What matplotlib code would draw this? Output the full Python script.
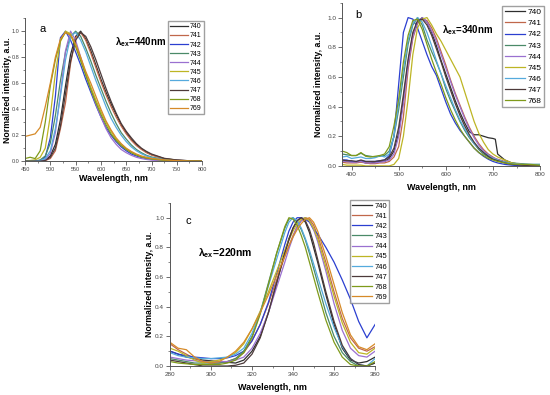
import matplotlib
matplotlib.use("Agg")
import matplotlib.pyplot as plt
from matplotlib.ticker import MultipleLocator

plt.rcParams['font.family'] = ['Liberation Sans', 'DejaVu Sans']
plt.rcParams['mathtext.fontset'] = 'custom'
plt.rcParams['mathtext.rm'] = 'Liberation Sans'
plt.rcParams['mathtext.bf'] = 'Liberation Sans:bold'

samples = ['740', '741', '742', '743', '744', '745', '746', '747', '768', '769']
colors = ['#2e2e2e', '#c0674a', '#2b3fd0', '#4a8a68', '#9a70d0',
          '#bdb524', '#55aadd', '#4d3a3a', '#7f9a1a', '#d68a28']

# ---- panel a : excitation 440 nm ----
wl_a = [450, 460, 470, 480, 490, 500, 510, 520, 530, 540, 550, 560, 570, 580, 590,
        600, 610, 620, 630, 640, 650, 660, 670, 680, 690, 700, 725, 750, 775, 800]
a740 = [0, 0, 0, 0, 0.01, 0.04, 0.13, 0.32, 0.58, 0.82, 0.96, 1.0, 0.94, 0.85, 0.74,
        0.63, 0.53, 0.44, 0.36, 0.28, 0.22, 0.17, 0.13, 0.095, 0.07, 0.05, 0.02, 0.008, 0.003, 0]
a741 = [0, 0, 0, 0, 0.005, 0.02, 0.08, 0.25, 0.45, 0.75, 0.95, 0.99, 0.93, 0.83, 0.72,
        0.61, 0.51, 0.42, 0.34, 0.27, 0.21, 0.16, 0.12, 0.09, 0.065, 0.047, 0.018, 0.007, 0.002, 0]
a742 = [0, 0, 0, 0.005, 0.03, 0.18, 0.5, 0.95, 1.0, 0.93, 0.84, 0.74, 0.63, 0.53, 0.43,
        0.34, 0.26, 0.2, 0.15, 0.11, 0.08, 0.055, 0.04, 0.028, 0.02, 0.014, 0.005, 0.002, 0, 0]
a743 = [0, 0, 0, 0.01, 0.04, 0.14, 0.35, 0.62, 0.84, 0.96, 1.0, 0.96, 0.87, 0.77, 0.66,
        0.56, 0.46, 0.37, 0.29, 0.22, 0.17, 0.125, 0.09, 0.065, 0.045, 0.032, 0.013, 0.005, 0.002, 0]
a744 = [0, 0, 0, 0, 0.01, 0.06, 0.22, 0.52, 0.85, 1.0, 0.93, 0.8, 0.67, 0.55, 0.44,
        0.34, 0.25, 0.18, 0.13, 0.09, 0.065, 0.045, 0.03, 0.02, 0.013, 0.008, 0.003, 0, 0, 0]
a745 = [0, 0.005, 0.01, 0.03, 0.1, 0.35, 0.68, 0.92, 1.0, 0.98, 0.9, 0.79, 0.68, 0.57, 0.47,
        0.38, 0.3, 0.23, 0.17, 0.13, 0.095, 0.07, 0.05, 0.035, 0.025, 0.018, 0.008, 0.003, 0.001, 0]
a746 = [0, 0, 0, 0.005, 0.02, 0.08, 0.25, 0.5, 0.78, 0.96, 0.99, 0.93, 0.84, 0.73, 0.62,
        0.52, 0.42, 0.33, 0.26, 0.2, 0.15, 0.11, 0.08, 0.057, 0.04, 0.028, 0.011, 0.004, 0.001, 0]
a747 = [0, 0, 0, 0, 0.005, 0.03, 0.1, 0.27, 0.52, 0.77, 0.93, 0.99, 0.96, 0.88, 0.78,
        0.67, 0.56, 0.46, 0.37, 0.29, 0.23, 0.18, 0.135, 0.1, 0.075, 0.055, 0.022, 0.009, 0.003, 0]
a768 = [0.02, 0.03, 0.02, 0.08, 0.3, 0.58, 0.78, 0.93, 0.99, 0.97, 0.88, 0.77, 0.66, 0.55, 0.45,
        0.36, 0.28, 0.21, 0.16, 0.12, 0.09, 0.065, 0.047, 0.033, 0.024, 0.017, 0.007, 0.003, 0.001, 0]
a769 = [0.19, 0.2, 0.21, 0.26, 0.42, 0.6, 0.8, 0.94, 0.99, 0.97, 0.9, 0.8, 0.69, 0.6, 0.5,
        0.4, 0.31, 0.24, 0.18, 0.135, 0.1, 0.075, 0.055, 0.04, 0.03, 0.022, 0.01, 0.004, 0.001, 0]

# ---- panel b : excitation 340 nm (no 769) ----
wl_b = [380, 390, 400, 410, 420, 430, 440, 450, 460, 470, 480, 490, 500, 510, 520, 530, 540,
        550, 560, 570, 580, 590, 600, 610, 620, 630, 640, 650, 660, 670, 680, 690, 700, 705,
        710, 725, 740, 760, 780, 800]
b740 = [0.035, 0.03, 0.03, 0.025, 0.03, 0.02, 0.02, 0.025, 0.03, 0.03, 0.05, 0.1, 0.22, 0.45,
        0.7, 0.88, 0.97, 1.0, 0.97, 0.9, 0.81, 0.71, 0.62, 0.53, 0.44, 0.36, 0.29, 0.23, 0.21,
        0.21, 0.2, 0.19, 0.185, 0.18, 0.08, 0.04, 0.02, 0.01, 0.005, 0]
b741 = [0.025, 0.02, 0.02, 0.02, 0.025, 0.02, 0.015, 0.015, 0.02, 0.02, 0.03, 0.06, 0.13, 0.33,
        0.65, 0.86, 0.96, 0.99, 0.98, 0.93, 0.86, 0.77, 0.68, 0.58, 0.49, 0.41, 0.33, 0.26, 0.2,
        0.15, 0.11, 0.08, 0.06, 0.05, 0.045, 0.03, 0.015, 0.01, 0.005, 0]
b742 = [0.04, 0.04, 0.03, 0.03, 0.035, 0.03, 0.03, 0.03, 0.035, 0.04, 0.07, 0.2, 0.55, 0.9,
        1.0, 0.99, 0.93, 0.84, 0.75, 0.67, 0.61, 0.52, 0.43, 0.35, 0.29, 0.24, 0.2, 0.16, 0.12,
        0.09, 0.065, 0.045, 0.03, 0.025, 0.02, 0.01, 0.005, 0, 0, 0]
b743 = [0.08, 0.075, 0.07, 0.07, 0.085, 0.07, 0.065, 0.06, 0.065, 0.07, 0.1, 0.2, 0.38, 0.6,
        0.82, 0.95, 1.0, 0.95, 0.85, 0.77, 0.7, 0.62, 0.52, 0.44, 0.37, 0.3, 0.24, 0.19, 0.15,
        0.11, 0.08, 0.06, 0.045, 0.04, 0.035, 0.025, 0.02, 0.015, 0.01, 0.01]
b744 = [0.03, 0.03, 0.025, 0.025, 0.03, 0.02, 0.02, 0.02, 0.025, 0.03, 0.04, 0.08, 0.2, 0.42,
        0.68, 0.87, 0.97, 1.0, 0.97, 0.91, 0.84, 0.75, 0.66, 0.57, 0.48, 0.4, 0.32, 0.25, 0.19,
        0.14, 0.1, 0.075, 0.055, 0.05, 0.04, 0.025, 0.015, 0.01, 0.005, 0]
b745 = [0.01, 0.005, 0.005, 0.005, 0.005, 0, 0, 0, 0, 0, 0, 0.01, 0.05, 0.2,
        0.45, 0.75, 0.93, 0.99, 1.0, 0.95, 0.89, 0.84, 0.78, 0.72, 0.66, 0.6, 0.5, 0.4, 0.3,
        0.22, 0.16, 0.11, 0.08, 0.07, 0.06, 0.04, 0.02, 0.01, 0.005, 0]
b746 = [0.06, 0.065, 0.05, 0.055, 0.06, 0.05, 0.05, 0.055, 0.07, 0.06, 0.08, 0.2, 0.42, 0.65,
        0.85, 0.96, 1.0, 0.97, 0.9, 0.81, 0.71, 0.62, 0.54, 0.46, 0.38, 0.31, 0.25, 0.2, 0.15,
        0.12, 0.09, 0.07, 0.05, 0.045, 0.04, 0.025, 0.015, 0.01, 0.01, 0.01]
b747 = [0.04, 0.035, 0.035, 0.03, 0.04, 0.03, 0.03, 0.03, 0.035, 0.04, 0.06, 0.12, 0.26, 0.48,
        0.72, 0.9, 0.98, 0.99, 0.95, 0.88, 0.79, 0.7, 0.6, 0.51, 0.42, 0.34, 0.27, 0.21, 0.16,
        0.12, 0.09, 0.065, 0.045, 0.04, 0.035, 0.02, 0.01, 0.005, 0, 0]
b768 = [0.1, 0.09, 0.07, 0.07, 0.09, 0.065, 0.06, 0.065, 0.07, 0.08, 0.13, 0.27, 0.45, 0.7,
        0.88, 0.98, 0.99, 0.92, 0.82, 0.72, 0.63, 0.55, 0.46, 0.38, 0.31, 0.25, 0.2, 0.16, 0.12,
        0.09, 0.07, 0.05, 0.04, 0.035, 0.03, 0.02, 0.012, 0.01, 0.01, 0.005]

# ---- panel c : excitation 220 nm ----
wl_c = [280, 284, 288, 292, 296, 300, 304, 308, 312, 316, 320, 324, 328, 332, 336, 338,
        340, 342, 344, 346, 348, 350, 352, 356, 360, 364, 368, 372, 376, 380]
c740 = [0.1, 0.08, 0.06, 0.05, 0.04, 0.035, 0.03, 0.025, 0.02, 0.04, 0.1, 0.2, 0.36, 0.56, 0.77,
        0.86, 0.93, 0.98, 1.0, 0.97, 0.9, 0.8, 0.7, 0.48, 0.28, 0.12, 0.04, 0.02, 0.03, 0.06]
c741 = [0.15, 0.11, 0.08, 0.05, 0.03, 0.02, 0.02, 0.03, 0.05, 0.09, 0.17, 0.28, 0.42, 0.58, 0.74,
        0.81, 0.88, 0.94, 0.98, 1.0, 0.99, 0.95, 0.88, 0.7, 0.5, 0.32, 0.19, 0.12, 0.1, 0.13]
c742 = [0.1, 0.08, 0.07, 0.06, 0.055, 0.05, 0.05, 0.055, 0.07, 0.1, 0.17, 0.28, 0.43, 0.62, 0.82,
        0.91, 0.97, 1.0, 1.0, 0.99, 0.97, 0.92, 0.89, 0.8, 0.7, 0.58, 0.45, 0.3, 0.19, 0.28]
c743 = [0.05, 0.04, 0.03, 0.02, 0.02, 0.02, 0.02, 0.03, 0.05, 0.1, 0.2, 0.36, 0.56, 0.76, 0.93,
        0.99, 1.0, 0.97, 0.92, 0.85, 0.76, 0.66, 0.56, 0.36, 0.2, 0.09, 0.03, 0.0, 0.0, 0.02]
c744 = [0.06, 0.05, 0.04, 0.035, 0.03, 0.03, 0.03, 0.03, 0.04, 0.06, 0.12, 0.22, 0.36, 0.53, 0.7,
        0.79, 0.87, 0.94, 0.98, 1.0, 0.98, 0.92, 0.84, 0.64, 0.42, 0.24, 0.12, 0.07, 0.06, 0.1]
c745 = [0.12, 0.1, 0.07, 0.04, 0.02, 0.03, 0.04, 0.06, 0.09, 0.15, 0.25, 0.37, 0.5, 0.64, 0.78,
        0.85, 0.91, 0.96, 0.99, 1.0, 0.98, 0.93, 0.86, 0.67, 0.47, 0.29, 0.16, 0.09, 0.08, 0.12]
c746 = [0.09, 0.07, 0.06, 0.055, 0.05, 0.05, 0.055, 0.06, 0.08, 0.12, 0.22, 0.36, 0.54, 0.72, 0.9,
        0.97, 1.0, 0.98, 0.93, 0.86, 0.78, 0.69, 0.6, 0.42, 0.26, 0.13, 0.05, 0.01, 0.0, 0.05]
c747 = [0.04, 0.03, 0.02, 0.01, 0.0, 0.0, 0.0, 0.0, 0.005, 0.02, 0.08, 0.19, 0.36, 0.56, 0.76,
        0.85, 0.93, 0.98, 1.0, 0.98, 0.92, 0.83, 0.72, 0.5, 0.3, 0.14, 0.05, 0.01, 0.0, 0.02]
c768 = [0.03, 0.02, 0.015, 0.01, 0.01, 0.01, 0.01, 0.02, 0.04, 0.09, 0.19, 0.35, 0.55, 0.76, 0.94,
        1.0, 0.99, 0.95, 0.88, 0.8, 0.7, 0.6, 0.5, 0.31, 0.16, 0.06, 0.01, 0.0, 0.0, 0.03]
c769 = [0.16, 0.12, 0.11, 0.06, 0.03, 0.02, 0.03, 0.06, 0.1, 0.16, 0.25, 0.36, 0.48, 0.61, 0.74,
        0.81, 0.87, 0.92, 0.96, 0.99, 1.0, 0.97, 0.91, 0.74, 0.55, 0.36, 0.21, 0.13, 0.11, 0.15]

series_a = [a740, a741, a742, a743, a744, a745, a746, a747, a768, a769]
series_b = [b740, b741, b742, b743, b744, b745, b746, b747, b768]
series_c = [c740, c741, c742, c743, c744, c745, c746, c747, c768, c769]


def setup(ax, xlim, xmajor, xminor, tsize, ylab_x, xlab_y):
    ax.set_xlim(*xlim)
    ax.set_ylim(0, 1.1)
    ax.spines['top'].set_visible(False)
    ax.spines['right'].set_visible(False)
    for s in ('left', 'bottom'):
        ax.spines[s].set_linewidth(0.7)
        ax.spines[s].set_color('#555555')
    ax.xaxis.set_major_locator(MultipleLocator(xmajor))
    ax.xaxis.set_minor_locator(MultipleLocator(xminor))
    ax.yaxis.set_major_locator(MultipleLocator(0.2))
    ax.yaxis.set_minor_locator(MultipleLocator(0.1))
    ax.tick_params(which='major', length=3, width=0.6, labelsize=tsize, pad=1.2,
                   color='#555555', labelcolor='#444444')
    ax.tick_params(which='minor', length=1.5, width=0.5, color='#555555')
    ax.set_xlabel('Wavelength, nm', fontsize=6.5, fontweight='bold')
    ax.set_ylabel('Normalized intensity, a.u.', fontsize=6.3, fontweight='bold')
    ax.yaxis.set_label_coords(ylab_x, 0.5)
    ax.xaxis.set_label_coords(0.5, xlab_y)


fig = plt.figure(figsize=(5.5, 3.95), dpi=100)

ax_a = fig.add_axes([0.0455, 0.592, 0.322, 0.362])
for name, col, ys in zip(samples, colors, series_a):
    ax_a.plot(wl_a, ys, color=col, lw=0.9, label=name)
setup(ax_a, (450, 800), 50, 25, 4.0, -0.076, -0.087)
ax_a.legend(loc='upper left', bbox_to_anchor=(0.305, 0.946), bbox_transform=fig.transFigure,
            fontsize=5, frameon=True, fancybox=False, edgecolor='#888888', handlelength=2.6,
            labelspacing=0.30, borderpad=0.3, handletextpad=0.3, borderaxespad=0)

ax_b = fig.add_axes([0.622, 0.58, 0.36, 0.413])
for name, col, ys in zip(samples[:9], colors[:9], series_b):
    ax_b.plot(wl_b, ys, color=col, lw=0.9, label=name)
setup(ax_b, (380, 800), 100, 50, 4.6, -0.096, -0.104)
ax_b.legend(loc='upper left', bbox_to_anchor=(0.913, 0.985), bbox_transform=fig.transFigure,
            fontsize=6, frameon=True, fancybox=False, edgecolor='#888888', handlelength=2.4,
            labelspacing=0.39, borderpad=0.3, handletextpad=0.3, borderaxespad=0)

ax_c = fig.add_axes([0.309, 0.0734, 0.373, 0.413])
for name, col, ys in zip(samples, colors, series_c):
    ax_c.plot(wl_c, ys, color=col, lw=0.9, label=name)
setup(ax_c, (280, 380), 20, 10, 4.6, -0.08, -0.107)
ax_c.legend(loc='upper left', bbox_to_anchor=(0.636, 0.494), bbox_transform=fig.transFigure,
            fontsize=5.5, frameon=True, fancybox=False, edgecolor='#888888', handlelength=2.6,
            labelspacing=0.37, borderpad=0.3, handletextpad=0.3, borderaxespad=0)

fig.text(40 / 550, 1 - 29 / 395, 'a', fontsize=8, va='center', ha='left')
fig.text(355 / 550, 1 - 15 / 395, 'b', fontsize=8, va='center', ha='left')
fig.text(185 / 550, 1 - 221 / 395, 'c', fontsize=8, va='center', ha='left')

fig.text(115 / 550, 1 - 42 / 395, r'λ$_{\mathbf{ex}}$=440nm', fontsize=7,
         fontweight='bold', va='center', ha='left')
fig.text(442 / 550, 1 - 30 / 395, r'λ$_{\mathbf{ex}}$=340nm', fontsize=7,
         fontweight='bold', va='center', ha='left')
fig.text(198 / 550, 1 - 253 / 395, r'λ$_{\mathbf{ex}}$=220nm', fontsize=7.5,
         fontweight='bold', va='center', ha='left')

fig.savefig('out.png', dpi=100)
